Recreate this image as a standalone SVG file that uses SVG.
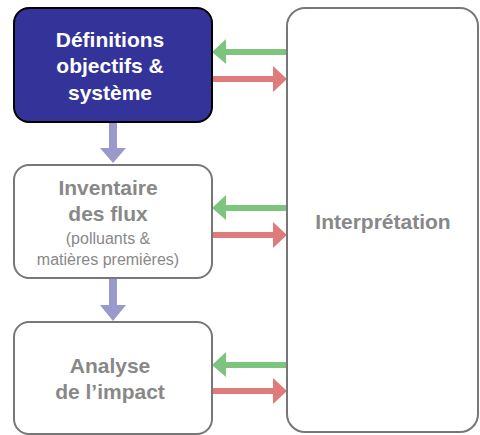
<svg xmlns="http://www.w3.org/2000/svg" width="480" height="435" viewBox="0 0 480 435">
<style>
.box{fill:#fff;stroke:#777;stroke-width:2}
.t{font-family:"Liberation Sans",Arial,sans-serif;font-weight:bold;font-size:21px;text-anchor:middle;fill:#888}
.s{font-family:"Liberation Sans",Arial,sans-serif;font-size:16px;text-anchor:middle;fill:#888}
.w{fill:#fff}
.g{fill:#7dc47f}
.r{fill:#df7b7b}
.p{fill:#9999cc}
</style>
<rect width="480" height="435" fill="#fff"/>
<g id="connectors">
<path class="p" d="M109,122 H117 V148 H126 L113,163 L100,148 H109 Z"/>
<path class="p" d="M109,278 H117 V305 H126 L113,321 L100,305 H109 Z"/>
<path class="g" d="M287,49 V55 H226 V64 L212,52 L226,39 V49 Z"/>
<path class="r" d="M212,76 V82 H273 V92 L287,79 L273,66 V76 Z"/>
<path class="g" d="M287,205 V211 H226 V220 L212,208 L226,195 V205 Z"/>
<path class="r" d="M212,232 V238 H273 V248 L287,235 L273,222 V232 Z"/>
<path class="g" d="M287,362 V368 H226 V377 L212,365 L226,352 V362 Z"/>
<path class="r" d="M212,388 V394 H273 V404 L287,391 L273,378 V388 Z"/>
</g>
<g id="definitions">
<rect x="14" y="8" width="198" height="114" rx="15" fill="#333399" stroke="#000" stroke-width="2"/>
<text class="t w" x="110" y="47">Définitions</text>
<text class="t w" x="110" y="73">objectifs &amp;</text>
<text class="t w" x="110" y="100">système</text>
</g>
<g id="inventaire">
<rect class="box" x="14" y="165" width="198" height="113" rx="15"/>
<text class="t" x="108" y="195">Inventaire</text>
<text class="t" x="108" y="221">des flux</text>
<text class="s" x="108" y="244">(polluants &amp;</text>
<text class="s" x="108" y="265">matières premières)</text>
</g>
<g id="impact">
<rect class="box" x="14" y="322" width="198" height="112" rx="15"/>
<text class="t" x="110" y="373">Analyse</text>
<text class="t" x="110" y="399">de l’impact</text>
</g>
<g id="interpretation">
<rect class="box" x="287" y="8" width="191" height="424" rx="18"/>
<text class="t" x="383" y="229">Interprétation</text>
</g>
</svg>
